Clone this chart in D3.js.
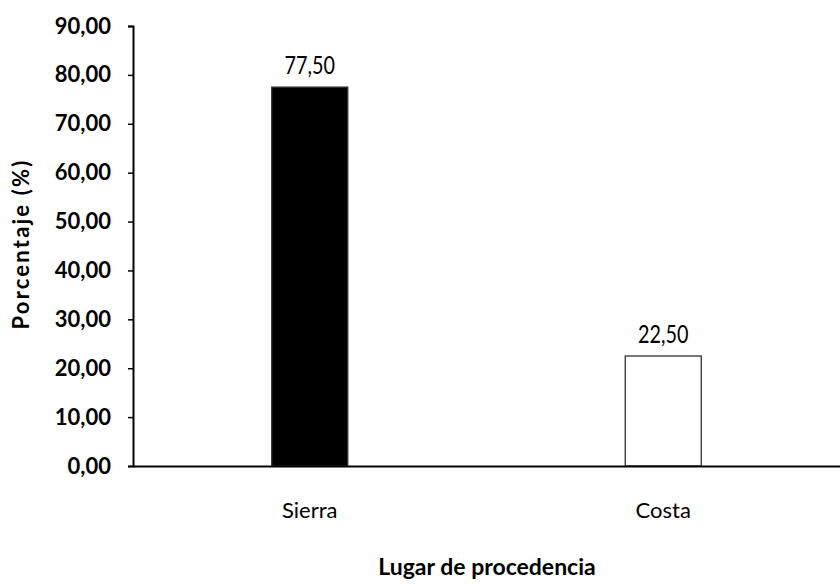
<!DOCTYPE html>
<html>
<head>
<meta charset="utf-8">
<script src="https://cdn.jsdelivr.net/npm/d3@7"></script>
<style>
  body { margin: 0; background: #fff; }
  svg text { font-family: Lato, "Open Sans", sans-serif; fill: #000; }
</style>
</head>
<body>
<svg id="chart" width="840" height="585"></svg>
<script>
// data
var categories = ["Sierra", "Costa"];
var values = [77.5, 22.5];
var fills = ["#000", "#fff"];
var yTicks = [0, 10, 20, 30, 40, 50, 60, 70, 80, 90];

var svg = d3.select("#chart");
var mLeft = 133, mRight = 840, mTop = 26, mBottom = 466;

var fmt = function(v) { return d3.format(".2f")(v).replace(".", ","); };

var y = d3.scaleLinear().domain([0, 90]).range([mBottom, mTop]);
var x = d3.scaleBand().domain(categories).range([mLeft, mRight])
    .paddingInner(0.785).paddingOuter(0.3925);

// y axis
var yAxis = d3.axisLeft(y).tickValues(yTicks).tickFormat(fmt).tickSize(5).tickPadding(17);
var gy = svg.append("g").attr("transform", "translate(" + mLeft + ",0)").call(yAxis);
gy.select(".domain").attr("stroke", "#000").attr("stroke-width", 2);
gy.selectAll(".tick line").attr("stroke", "#000").attr("stroke-width", 1.5);
gy.selectAll(".tick text").attr("font-size", 22).attr("font-weight", "bold").attr("fill", "#000");

// bars
svg.append("g").selectAll("rect")
    .data(values)
    .enter().append("rect")
    .attr("x", function(d, i) { return x(categories[i]); })
    .attr("y", function(d) { return y(d); })
    .attr("width", x.bandwidth())
    .attr("height", function(d) { return mBottom - y(d); })
    .attr("fill", function(d, i) { return fills[i]; })
    .attr("stroke", "#333")
    .attr("stroke-width", 1.3);

// value labels (narrow, tall like the original)
svg.append("g").selectAll("text")
    .data(values)
    .enter().append("text")
    .attr("transform", function(d, i) {
        return "translate(" + (x(categories[i]) + x.bandwidth() / 2) + "," + (y(d) - 13) + ") scale(0.9,1.1)";
    })
    .attr("text-anchor", "middle")
    .attr("font-size", 22)
    .text(fmt);

// x axis baseline + labels
var xAxis = d3.axisBottom(x).tickSize(0).tickPadding(36);
var gx = svg.append("g").attr("transform", "translate(0," + mBottom + ")").call(xAxis);
gx.select(".domain").attr("stroke", "#000").attr("stroke-width", 2);
gx.selectAll(".tick text").attr("font-size", 22).attr("fill", "#000");

// axis titles
svg.append("text")
    .attr("transform", "translate(29," + 244 + ") rotate(-90)")
    .attr("text-anchor", "middle")
    .attr("font-size", 22)
    .attr("letter-spacing", 2.2)
    .attr("font-weight", "bold")
    .text("Porcentaje (%)");

svg.append("text")
    .attr("x", 487)
    .attr("y", 575)
    .attr("text-anchor", "middle")
    .attr("font-size", 23)
    .attr("font-weight", "bold")
    .text("Lugar de procedencia");
</script>
</body>
</html>
